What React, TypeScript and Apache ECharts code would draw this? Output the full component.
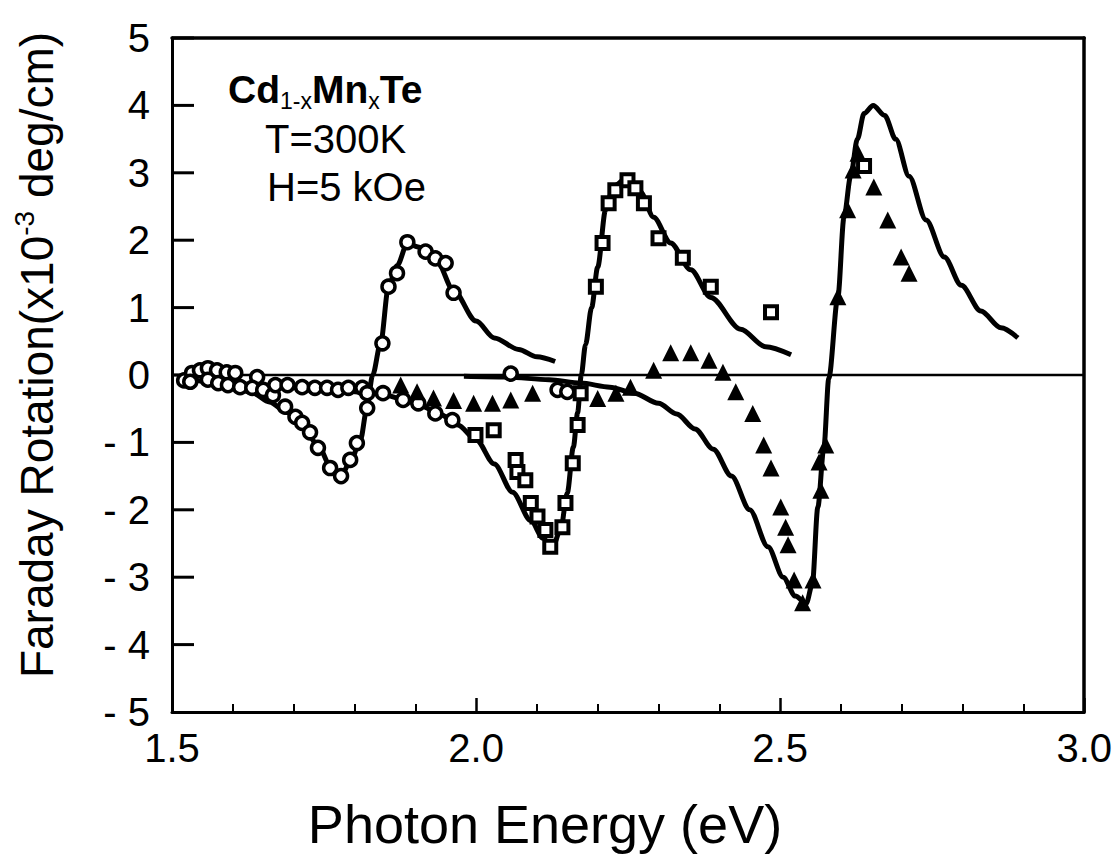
import React, { useEffect, useRef } from "react";
import * as echarts from "echarts";

// ---- data (photon energy eV, Faraday rotation x10^-3 deg/cm) ----
const curveA: number[][] = [
  [1.52, -0.04], [1.56, -0.1], [1.6, -0.17], [1.633, -0.27], [1.66, -0.4], [1.69, -0.56],
  [1.714, -0.74], [1.74, -1.04], [1.76, -1.34], [1.777, -1.5], [1.793, -1.3], [1.81, -0.96],
  [1.82, -0.52], [1.83, 0], [1.843, 0.47], [1.856, 1.31], [1.87, 1.62], [1.887, 1.95],
  [1.905, 1.9], [1.92, 1.82], [1.936, 1.68], [1.963, 1.25], [2.0, 0.8], [2.03, 0.55],
  [2.07, 0.38], [2.1, 0.27], [2.13, 0.2],
];
const curveB: number[][] = [
  [1.58, -0.1], [1.65, -0.15], [1.72, -0.2], [1.79, -0.24], [1.847, -0.29], [1.88, -0.36],
  [1.91, -0.46], [1.94, -0.58], [1.97, -0.74], [2.0, -0.96], [2.03, -1.32], [2.06, -1.74],
  [2.09, -2.16], [2.11, -2.42], [2.125, -2.57], [2.139, -2.3], [2.15, -1.75], [2.16, -1.07],
  [2.167, -0.56], [2.173, 0], [2.18, 0.45], [2.19, 1.0], [2.2, 1.6], [2.213, 2.45],
  [2.226, 2.8], [2.249, 2.93], [2.27, 2.72], [2.292, 2.34], [2.32, 1.96], [2.353, 1.56],
  [2.386, 1.15], [2.435, 0.68], [2.476, 0.42], [2.518, 0.3],
];
const curveC: number[][] = [
  [1.98, -0.02], [2.05, -0.03], [2.12, -0.07], [2.172, -0.12], [2.22, -0.18], [2.26, -0.27],
  [2.3, -0.42], [2.33, -0.58], [2.36, -0.8], [2.39, -1.1], [2.42, -1.5], [2.45, -2.0],
  [2.48, -2.55], [2.505, -3.0], [2.525, -3.28], [2.543, -3.39], [2.553, -3.1], [2.562, -1.96],
  [2.572, -1.07], [2.58, -0.05], [2.595, 1.16], [2.605, 2.34], [2.616, 2.95], [2.627, 3.5],
  [2.638, 3.88], [2.653, 4.0], [2.672, 3.85], [2.69, 3.5], [2.712, 2.95], [2.74, 2.3],
  [2.77, 1.75], [2.798, 1.33], [2.83, 0.95], [2.863, 0.7], [2.891, 0.55],
];
const circlePoints: number[][] = [
  [1.52, -0.08], [1.533, 0.03], [1.546, 0.07], [1.559, 0.1], [1.574, 0.07], [1.59, 0.04],
  [1.604, 0.03], [1.64, -0.03], [1.53, -0.1], [1.559, -0.07], [1.576, -0.12], [1.592, -0.15],
  [1.612, -0.18], [1.632, -0.19], [1.65, -0.22], [1.666, -0.3], [1.686, -0.47], [1.703, -0.62],
  [1.714, -0.71], [1.727, -0.85], [1.74, -1.08], [1.76, -1.38], [1.778, -1.5], [1.793, -1.26],
  [1.804, -1.01], [1.821, -0.49], [1.67, -0.15], [1.69, -0.15], [1.714, -0.18], [1.735, -0.19],
  [1.755, -0.19], [1.773, -0.22], [1.79, -0.19], [1.813, -0.19], [1.821, -0.27],
  [1.846, 0.47], [1.856, 1.31], [1.87, 1.51], [1.887, 1.97], [1.917, 1.83], [1.933, 1.73],
  [1.95, 1.66], [1.963, 1.22], [1.847, -0.27], [1.88, -0.37], [1.905, -0.42], [1.933, -0.57],
  [1.961, -0.67], [2.057, 0.02], [2.134, -0.22], [2.15, -0.25],
];
const squarePoints: number[][] = [
  [1.999, -0.89], [2.029, -0.82], [2.065, -1.26], [2.068, -1.44], [2.081, -1.56], [2.09, -1.9],
  [2.101, -2.1], [2.114, -2.3], [2.122, -2.55], [2.142, -2.26], [2.147, -1.9], [2.159, -1.31],
  [2.167, -0.74], [2.172, -0.27], [2.197, 1.31], [2.208, 1.96],
  [2.218, 2.55], [2.229, 2.74], [2.249, 2.89], [2.262, 2.77], [2.276, 2.55], [2.3, 2.03],
  [2.34, 1.74], [2.386, 1.31], [2.485, 0.93], [2.638, 3.1],
];
const trianglePoints: number[][] = [
  [1.876, -0.15], [1.903, -0.25], [1.93, -0.34], [1.963, -0.38], [1.996, -0.42], [2.027, -0.42],
  [2.057, -0.37], [2.093, -0.27], [2.2, -0.35], [2.23, -0.27], [2.254, -0.18], [2.292, 0.07],
  [2.32, 0.33], [2.353, 0.33], [2.383, 0.22], [2.406, 0.04], [2.427, -0.25], [2.455, -0.57],
  [2.473, -1.04], [2.485, -1.38], [2.501, -1.96], [2.509, -2.26], [2.513, -2.52], [2.523, -3.04],
  [2.537, -3.38], [2.554, -3.04], [2.564, -1.29], [2.567, -1.71], [2.575, -1.04], [2.595, 1.16],
  [2.611, 2.45], [2.62, 3.04], [2.628, 3.29], [2.654, 2.79], [2.677, 2.3], [2.699, 1.75],
  [2.712, 1.51],
];
const zeroLine: number[][] = [[1.5, 0], [3.0, 0]];
const yTickValues: number[] = [-4, -3, -2, -1, 0, 1, 2, 3, 4, 5];

const X_MIN = 1.5, X_MAX = 3.0, X_STEP = 0.5;
const Y_MIN = -5, Y_MAX = 5, Y_STEP = 1;
const Y_TICK_LEN = 22;
const CHART_W = 1115, CHART_H = 866;
const GRID = { left: 172, right: 30, top: 38, bottom: 154 };

const FONT = "'Liberation Sans', Arial, Helvetica, sans-serif";

export default function App() {
  const ref = useRef<HTMLDivElement>(null);
  useEffect(() => {
    const chart = echarts.init(ref.current!, null, { renderer: "svg" });
    const curveSeries = (data: number[][]) => ({
      type: "line",
      data,
      symbol: "none",
      smooth: 0.3,
      smoothMonotone: "x",
      lineStyle: { color: "#000", width: 5 },
      z: 2,
    });
    chart.setOption({
      animation: false,
      grid: GRID,
      xAxis: [
        {
          type: "value",
          min: X_MIN,
          max: X_MAX,
          interval: X_STEP,
          axisLine: { show: true, onZero: false, lineStyle: { color: "#000", width: 3 } },
          axisTick: { show: true, inside: true, length: 14, lineStyle: { color: "#000", width: 2.5 } },
          minorTick: { show: true, splitNumber: 5, length: 8, lineStyle: { color: "#000", width: 2 } },
          splitLine: { show: false },
          axisLabel: {
            color: "#000",
            fontFamily: FONT,
            fontSize: 40,
            margin: 16,
            formatter: (v: number) => v.toFixed(1),
          },
        },
        {
          type: "value",
          position: "top",
          min: X_MIN,
          max: X_MAX,
          interval: X_STEP,
          axisLine: { show: true, onZero: false, lineStyle: { color: "#000", width: 3.5 } },
          axisTick: { show: false },
          axisLabel: { show: false },
          splitLine: { show: false },
        },
      ],
      yAxis: [
        {
          type: "value",
          min: Y_MIN,
          max: Y_MAX,
          interval: Y_STEP,
          axisLine: { show: true, onZero: false, lineStyle: { color: "#000", width: 3 } },
          axisTick: { show: false },
          splitLine: { show: false },
          axisLabel: {
            color: "#000",
            fontFamily: FONT,
            fontSize: 40,
            margin: 22,
            formatter: (v: number) => (v < 0 ? "- " + Math.abs(v) : String(v)),
          },
        },
        {
          type: "value",
          position: "right",
          min: Y_MIN,
          max: Y_MAX,
          interval: Y_STEP,
          axisLine: { show: true, onZero: false, lineStyle: { color: "#000", width: 3.5 } },
          axisTick: { show: false },
          axisLabel: { show: false },
          splitLine: { show: false },
        },
      ],
      series: [
        {
          type: "line",
          data: zeroLine,
          symbol: "none",
          lineStyle: { color: "#000", width: 2.5 },
          z: 1,
        },
        {
          // inward ticks of the left axis, placed through the y scale
          type: "custom",
          data: yTickValues.map((v) => [X_MIN, v]),
          encode: { x: 0, y: 1 },
          silent: true,
          z: 3,
          renderItem: (_params: any, api: any) => {
            const p = api.coord([api.value(0), api.value(1)]);
            return {
              type: "line",
              shape: { x1: p[0], y1: p[1], x2: p[0] + Y_TICK_LEN, y2: p[1] },
              style: { stroke: "#000", lineWidth: 3 },
            };
          },
        },
        curveSeries(curveA),
        curveSeries(curveB),
        curveSeries(curveC),
        {
          type: "scatter",
          data: circlePoints,
          symbol: "circle",
          symbolSize: 13,
          itemStyle: { color: "#fff", borderColor: "#000", borderWidth: 3.5, opacity: 1 },
          z: 4,
        },
        {
          type: "scatter",
          data: squarePoints,
          symbol: "rect",
          symbolSize: 12,
          itemStyle: { color: "#fff", borderColor: "#000", borderWidth: 4, opacity: 1 },
          z: 4,
        },
        {
          type: "scatter",
          data: trianglePoints,
          symbol: "triangle",
          symbolSize: 17,
          itemStyle: { color: "#000", opacity: 1 },
          z: 4,
        },
      ],
      graphic: [
        {
          type: "text",
          x: 228,
          y: 89,
          style: {
            text: "{b|Cd}{s|1-x}{b|Mn}{s|x}{b|Te}",
            textVerticalAlign: "middle",
            rich: {
              b: { fontFamily: FONT, fontSize: 39, fontWeight: "bold", lineHeight: 46, fill: "#000" },
              s: { fontFamily: FONT, fontSize: 23, lineHeight: 18, verticalAlign: "bottom", fill: "#000" },
            },
          },
        },
        {
          type: "text",
          x: 265,
          y: 139,
          style: { text: "T=300K", font: `40px ${FONT}`, fill: "#000", textVerticalAlign: "middle" },
        },
        {
          type: "text",
          x: 267,
          y: 187,
          style: { text: "H=5 kOe", font: `40px ${FONT}`, fill: "#000", textVerticalAlign: "middle" },
        },
        {
          type: "text",
          x: 37,
          y: 355,
          rotation: Math.PI / 2,
          style: {
            text: "{a|Faraday Rotation(x10}{s|-3}{a| deg/cm)}",
            textAlign: "center",
            textVerticalAlign: "middle",
            rich: {
              a: { fontFamily: FONT, fontSize: 46, lineHeight: 54, fill: "#000" },
              s: { fontFamily: FONT, fontSize: 28, lineHeight: 28, verticalAlign: "top", fill: "#000" },
            },
          },
        },
        {
          type: "text",
          x: 545,
          y: 824,
          style: {
            text: "Photon Energy (eV)",
            font: `54px ${FONT}`,
            fill: "#000",
            textAlign: "center",
            textVerticalAlign: "middle",
          },
        },
      ],
    });
    return () => chart.dispose();
  }, []);
  return (
    <div
      ref={ref}
      style={{ position: "absolute", left: 0, top: 0, width: CHART_W, height: CHART_H, background: "#fff" }}
    />
  );
}
